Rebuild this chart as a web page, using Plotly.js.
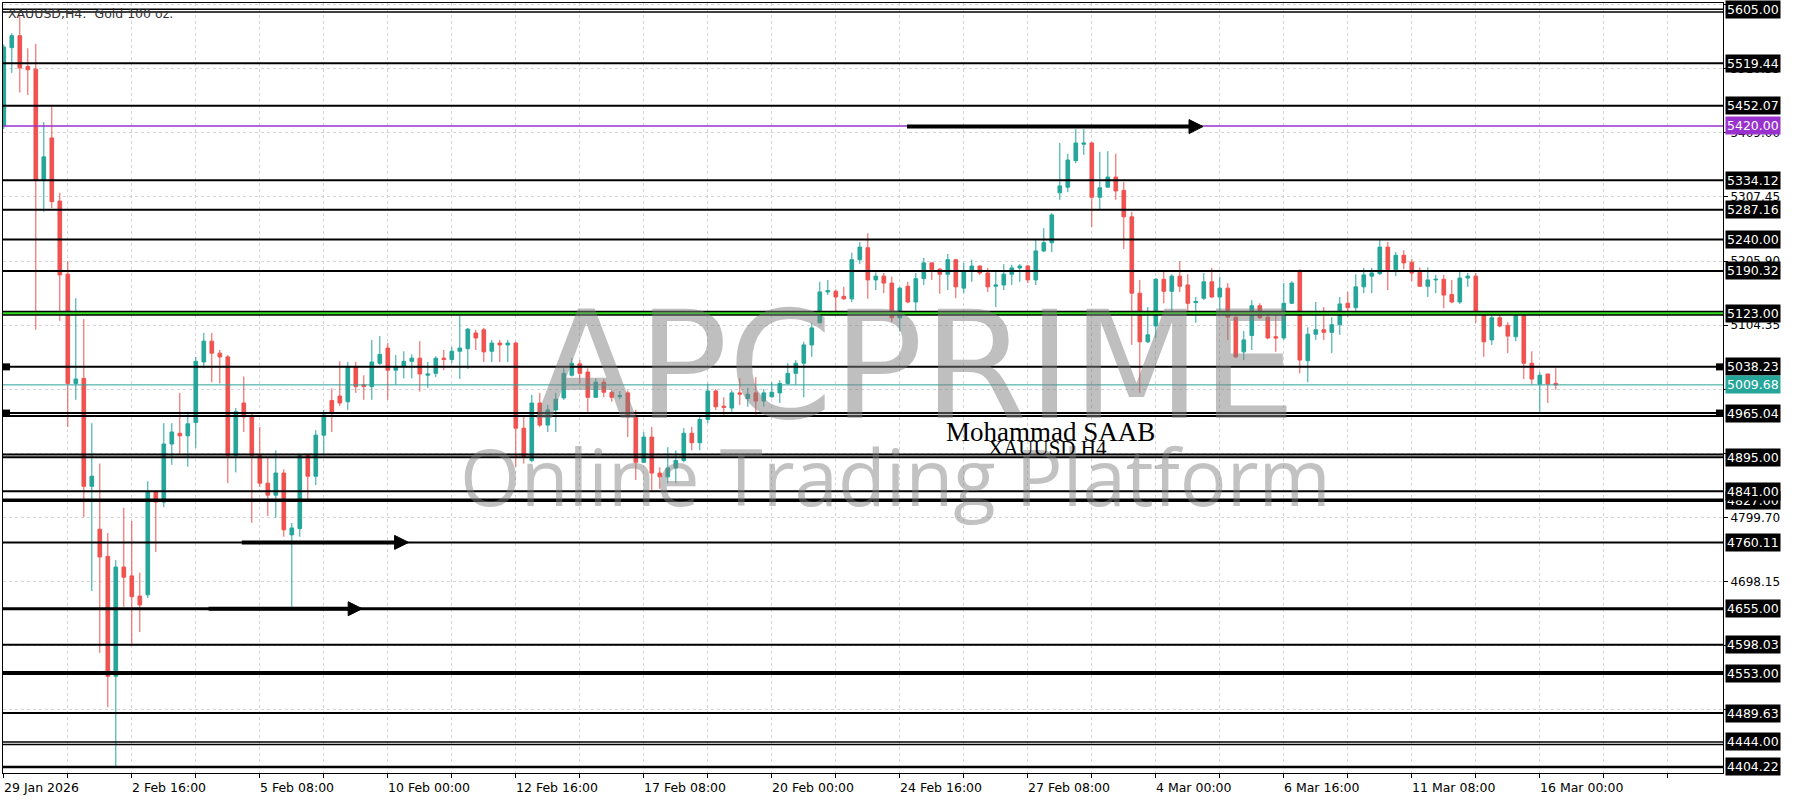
<!DOCTYPE html>
<html><head><meta charset="utf-8">
<script src="https://cdn.plot.ly/plotly-3.0.1.min.js"></script>
<style>html,body{margin:0;padding:0;background:#fff}#chart{width:1800px;height:800px}</style>
</head><body><div id="chart"></div>
<script>
// XAUUSD H4 candles, 29 Jan 2026 00:00 onward
const openP = [5420,5544,5563,5514,5510,5334,5401,5301,5185,5012,5020,4849,4781,4738,4548,4721,4707,4675,4677,4840,
4824,4916,4933,4929,4950,5046,5079,5060,5054,4898,4981,4959,4898,4854,4835,4870,4772,4782,4898,4865,
4930,4985,4992,4983,5038,5010,5007,5044,5068,5033,5039,5047,5052,5025,5028,5052,5050,5063,5067,5092,
5097,5063,5076,5073,5076,4941,4890,4981,4946,4970,4989,5025,5043,5030,4990,5014,4998,4991,4997,4959,
4887,4927,4870,4864,4878,4890,4933,4918,4955,5000,4976,4973,4997,4988,4997,4984,4991,4997,5012,5028,
5044,5073,5108,5157,5158,5150,5146,5208,5227,5176,5182,5171,5116,5166,5141,5178,5203,5193,5185,5208,
5163,5190,5198,5187,5166,5168,5185,5195,5198,5176,5222,5235,5314,5323,5365,5391,5393,5307,5323,5339,
5318,5276,5155,5078,5103,5177,5158,5182,5168,5140,5147,5173,5149,5163,5117,5062,5088,5135,5117,5086,
5084,5139,5190,5048,5090,5097,5093,5105,5139,5132,5165,5182,5186,5228,5192,5215,5204,5188,5166,5176,
5177,5153,5141,5179,5182,5124,5081,5116,5104,5086,5119,5044,5011,5027,5012];
const highP = [5549,5567,5596,5543,5550,5426,5450,5314,5206,5147,5114,4949,4885,4775,4732,4815,4794,4712,4857,4843,
4949,4949,4997,4967,5054,5092,5092,5065,5057,4973,5023,4965,4943,4895,4906,4876,4791,4901,4901,4938,
4970,5004,5047,5046,5046,5025,5081,5087,5076,5057,5063,5058,5079,5046,5055,5065,5070,5119,5100,5097,
5100,5081,5081,5081,5078,4960,4994,4997,4978,4997,5036,5052,5049,5036,5020,5019,5001,5000,5001,4970,
4935,4943,4879,4911,4906,4941,4943,4960,5012,5003,4990,5001,5020,5005,5022,5003,5014,5017,5044,5049,
5078,5108,5173,5176,5161,5165,5219,5236,5250,5188,5187,5181,5165,5173,5187,5211,5204,5195,5217,5209,
5203,5208,5199,5195,5192,5201,5200,5201,5200,5239,5258,5282,5393,5376,5415,5415,5395,5379,5380,5376,
5331,5284,5176,5133,5179,5189,5185,5206,5185,5149,5187,5195,5181,5171,5119,5095,5144,5139,5120,5124,
5171,5174,5193,5101,5141,5133,5117,5149,5157,5185,5195,5195,5239,5236,5220,5223,5209,5196,5196,5184,
5184,5176,5189,5187,5187,5125,5120,5122,5109,5122,5122,5063,5030,5027,5036];
const lowP = [5415,5504,5473,5469,5097,5284,5290,5111,4943,4986,4800,4683,4585,4499,4404.22,4658,4596,4618,4672,4745,
4816,4883,4899,4880,4910,5036,5014,5012,4854,4871,4935,4791,4848,4802,4799,4769,4658,4769,4826,4851,
4898,4935,4976,4970,4997,4986,4986,5041,4986,5010,5020,5020,4999,5005,5022,5033,5044,5019,5035,5065,
5046,5046,5046,5046,4880,4885,4887,4943,4935,4935,4986,5023,5012,4967,4989,4990,4983,4987,4927,4859,
4886,4843,4845,4854,4854,4887,4906,4906,4949,4970,4962,4967,4978,4975,4962,4975,4989,4981,5010,5010,
4990,5054,5107,5152,5120,5145,5141,5201,5146,5160,5155,5109,5094,5139,5120,5168,5176,5154,5160,5147,
5155,5173,5184,5157,5133,5160,5168,5173,5171,5168,5220,5220,5303,5315,5361,5374,5260,5288,5323,5303,
5225,5073,4997,5076,5084,5139,5124,5157,5120,5108,5144,5147,5120,5081,5052,5049,5065,5114,5082,5062,
5081,5138,5028,5014,5081,5081,5060,5089,5117,5127,5155,5155,5184,5160,5182,5193,5174,5165,5149,5155,
5131,5139,5138,5165,5108,5054,5073,5101,5060,5079,5019,5010,4967,4981,5002];
const closeP = [5545,5563,5512,5509,5334,5371,5300,5184,5012,5019,4849,4865,4737,4548,4721,4705,4674,4661,4840,4824,
4916,4935,4929,4948,5047,5079,5060,5054,4898,4967,4959,4898,4854,4835,4870,4780,4783,4898,4865,4930,
4962,4966,4981,5039,5007,5007,5046,5058,5033,5038,5047,5052,5027,5027,5052,5050,5063,5068,5098,5084,
5062,5076,5073,5076,4941,4895,4981,4946,4970,4987,5028,5044,5028,4990,5014,4998,4990,4993,4959,4887,
4927,4870,4864,4878,4890,4933,4918,4955,5000,4975,4974,4997,4995,4995,4984,4997,4998,5012,5028,5044,
5073,5100,5157,5159,5149,5146,5208,5228,5176,5182,5171,5116,5163,5141,5178,5203,5192,5185,5208,5165,
5190,5198,5187,5165,5168,5185,5195,5198,5176,5222,5235,5279,5325,5366,5393,5393,5307,5322,5339,5317,
5276,5155,5078,5089,5177,5158,5182,5166,5139,5142,5173,5149,5163,5117,5054,5081,5135,5116,5084,5084,
5139,5171,5049,5090,5097,5093,5105,5138,5132,5165,5184,5187,5228,5192,5215,5203,5187,5166,5176,5177,
5152,5141,5179,5182,5125,5078,5116,5103,5087,5119,5044,5019,5025,5011,5009.68];

const xTickBars = [0,16,32,48,64,80,96,112,128,144,160,176,192];
const xTickLabels = ["29 Jan 2026","2 Feb 16:00","5 Feb 08:00","10 Feb 00:00","12 Feb 16:00","17 Feb 08:00",
  "20 Feb 00:00","24 Feb 16:00","27 Feb 08:00","4 Mar 00:00","6 Mar 16:00","11 Mar 08:00","16 Mar 00:00"];
const priceGrid = [4495.05,4596.60,4698.15,4799.70,4901.25,5002.80,5104.35,5205.90,5307.45,5409.00,5510.55,5612.10];

// horizontal levels drawn on the chart
const linePrices = [5605.00,5600.50,5519.44,5452.07,5334.12,5287.16,5240.00,5190.32,5038.23,4965.04,4960.50,
  4899.50,4895.00,4841.00,4827.00,4760.11,4655.00,4598.03,4553.00,4489.63,4444.00,4440.00,4404.22];
const lineWidths = [1.5,1.5,2,2,2,2,2,2,2,2,2,2,2,2,3.5,2,3,2,4,2,1.5,1.5,2.5];
const supportPrice = 5123.00;
const alertPrice = 5420.00;
const bidPrice = 5009.68;
const labelPrices = [5605.00,5519.44,5452.07,5420.00,5334.12,5287.16,5240.00,5190.32,5123.00,5038.23,5009.68,
  4965.04,4895.00,4827.00,4841.00,4760.11,4655.00,4598.03,4553.00,4489.63,4444.00,4404.22];
// arrows: start bar, tip bar, price
const arrowFrom = [112.9, 29.75, 25.6];
const arrowTo = [149.9, 50.6, 44.8];
const arrowPrice = [5419.0, 4760.11, 4655.00];
const markerPrices = [5038.23, 4965.04];

const UP = '#26a69a', DOWN = '#ef5350';
const X0 = -0.1, X1 = 214.9, Y0 = 4394.7, Y1 = 5614.8;
const PW = 1720, PH = 770;
const barPerPx = (X1 - X0) / PW, pricePerPx = (Y1 - Y0) / PH;

const idx = openP.map((_, i) => i);
const gridBars = [];
for (let b = 0; b <= 208; b += 8) gridBars.push(b);

const shapes = [];
shapes.push({type:'line', xref:'paper', x0:0, x1:1, yref:'y', y0:supportPrice, y1:supportPrice, line:{color:'#000', width:5}, layer:'above'});
shapes.push({type:'line', xref:'paper', x0:0, x1:1, yref:'y', y0:supportPrice, y1:supportPrice, line:{color:'#33dd22', width:2}, layer:'above'});
linePrices.forEach((p, i) => shapes.push({type:'line', xref:'paper', x0:0, x1:1, yref:'y', y0:p, y1:p,
  line:{color:'#000', width:lineWidths[i]}, layer:'above'}));
shapes.push({type:'line', xref:'paper', x0:0, x1:1, yref:'y', y0:alertPrice, y1:alertPrice, line:{color:'#9932cc', width:1.5}, layer:'above'});
shapes.push({type:'line', xref:'paper', x0:0, x1:1, yref:'y', y0:bidPrice, y1:bidPrice, line:{color:'#2aa198', width:1}, layer:'above'});
arrowFrom.forEach((a, i) => {
  const tip = arrowTo[i], p = arrowPrice[i];
  const hl = 14 * barPerPx, hh = 7 * pricePerPx;
  shapes.push({type:'line', xref:'x', yref:'y', x0:a, x1:tip - hl, y0:p, y1:p, line:{color:'#000', width:4}, layer:'above'});
  shapes.push({type:'path', xref:'x', yref:'y', path:`M ${tip-hl},${p+hh} L ${tip},${p} L ${tip-hl},${p-hh} Z`,
    fillcolor:'#000', line:{color:'#000', width:1}, layer:'above'});
});
markerPrices.forEach(p => {
  shapes.push({type:'rect', xref:'paper', yref:'y', x0:0, x1:7/PW, y0:p-3.5*pricePerPx, y1:p+3.5*pricePerPx, fillcolor:'#000', line:{width:0}, layer:'above'});
  shapes.push({type:'rect', xref:'paper', yref:'y', x0:1-7/PW, x1:1, y0:p-3.5*pricePerPx, y1:p+3.5*pricePerPx, fillcolor:'#000', line:{width:0}, layer:'above'});
});

const annotations = [];
annotations.push({text:'APCPRIME', xref:'paper', yref:'paper', x:0.5305, y:0.528, xanchor:'center', yanchor:'middle',
  showarrow:false, font:{family:'DejaVu Sans', size:150, color:'rgba(128,128,128,0.5)'}});
annotations.push({text:'Online Trading Platform', xref:'paper', yref:'paper', x:0.5189, y:0.386, xanchor:'center', yanchor:'middle',
  showarrow:false, font:{family:'Open Sans', size:78, color:'rgba(128,128,128,0.48)'}});
annotations.push({text:'Mohammad SAAB', xref:'paper', yref:'paper', x:(944-3)/PW, y:(773-432)/PH, xanchor:'left', yanchor:'middle',
  showarrow:false, font:{family:'Liberation Serif', size:27, color:'#000'}});
annotations.push({text:'XAUUSD H4', xref:'paper', yref:'paper', x:(986-3)/PW, y:(773-448)/PH, xanchor:'left', yanchor:'middle',
  showarrow:false, font:{family:'Liberation Serif', size:21, color:'#000'}});
annotations.push({text:'XAUUSD,H4:  Gold 100 oz.', xref:'paper', yref:'paper', x:(6-3)/PW, y:(773-13)/PH, xanchor:'left', yanchor:'middle',
  showarrow:false, font:{family:'DejaVu Sans', size:12.5, color:'#333'}});
xTickBars.forEach((b, i) => annotations.push({text:xTickLabels[i], xref:'x', yref:'paper', x:b, y:-0.006,
  xanchor:'left', yanchor:'top', xshift:-2, showarrow:false, font:{family:'DejaVu Sans', size:12.5, color:'#000'}}));
labelPrices.forEach(p => {
  let bg = '#000';
  if (p === alertPrice) bg = '#9932cc';
  if (p === bidPrice) bg = '#26a69a';
  annotations.push({text:p.toFixed(2), xref:'paper', yref:'y', x:1, xshift:2, y:p, xanchor:'left', yanchor:'middle',
    showarrow:false, bgcolor:bg, borderpad:1, font:{family:'DejaVu Sans', size:12.5, color:'#fff'}});
});

const trace = {
  type:'candlestick', x:idx, open:openP, high:highP, low:lowP, close:closeP,
  increasing:{line:{color:UP, width:1}, fillcolor:UP},
  decreasing:{line:{color:DOWN, width:1}, fillcolor:DOWN},
  whiskerwidth:0, hoverinfo:'skip', showlegend:false
};

const layout = {
  width:1800, height:800, paper_bgcolor:'#fff', plot_bgcolor:'#fff',
  margin:{l:3, r:77, t:3, b:27},
  showlegend:false, boxgap:0.35,
  xaxis:{type:'linear', range:[X0, X1], rangeslider:{visible:false}, showline:true, mirror:true, linecolor:'#000', linewidth:1,
    tickvals:gridBars, showticklabels:false, ticks:'outside', ticklen:4, tickcolor:'#000',
    showgrid:true, gridcolor:'#d4d4d4', griddash:'3px,3px', gridwidth:1, zeroline:false, fixedrange:true},
  yaxis:{side:'right', range:[Y0, Y1], showline:true, mirror:true, linecolor:'#000', linewidth:1,
    tickvals:priceGrid, ticktext:priceGrid.map(v => v.toFixed(2)), ticks:'outside', ticklen:4, tickcolor:'#000',
    tickfont:{family:'DejaVu Sans', size:12, color:'#000'},
    showgrid:true, gridcolor:'#d4d4d4', griddash:'3px,3px', gridwidth:1, zeroline:false, fixedrange:true},
  shapes:shapes, annotations:annotations
};
Plotly.newPlot('chart', [trace], layout, {staticPlot:true, displayModeBar:false});
</script></body></html>
